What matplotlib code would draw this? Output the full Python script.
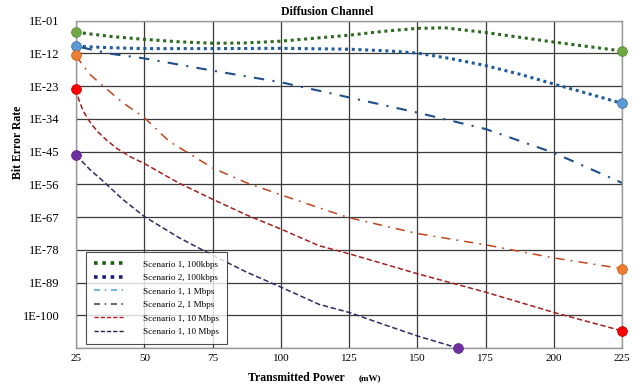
import numpy as np
import matplotlib
matplotlib.use("Agg")
import matplotlib.pyplot as plt
from matplotlib.lines import Line2D
from matplotlib.ticker import FixedLocator, NullLocator

plt.rcParams['font.family'] = ['Liberation Serif', 'DejaVu Serif']

# BER values kept as log10 exponents
x_s1_100k = [25, 37.5, 50, 62.5, 75, 87.5, 100, 112.5, 125, 137.5, 150, 160, 175, 187.5, 200, 212.5, 225]
e_s1_100k = [-4.9, -6.3, -7.3, -8.1, -8.6, -8.5, -7.9, -6.9, -5.9, -4.6, -3.6, -3.4, -5.0, -6.6, -8.2, -9.7, -11.2]

x_s2_100k = [25, 37.5, 50, 75, 100, 125, 140, 150, 162.5, 175, 187.5, 200, 212.5, 225]
e_s2_100k = [-9.6, -10.1, -10.4, -10.4, -10.3, -10.6, -11.2, -11.9, -13.8, -16.1, -19.0, -22.3, -25.5, -28.8]

x_s1_1m = [27, 37.4, 50, 75, 100, 125, 150, 175, 200, 225]
e_s1_1m = [-10.0, -12.1, -13.7, -17.8, -21.7, -26.8, -31.9, -37.4, -45.4, -55.5]

x_s2_1m = [25, 27, 30, 34, 42, 50, 59, 75, 87.5, 100, 118, 125, 150, 175, 200, 225]
e_s2_1m = [-12.7, -15.5, -19.0, -22.3, -28.5, -33.6, -41.5, -50.5, -55.5, -59.5, -65.1, -67.2, -72.5, -76.3, -80.7, -84.3]

x_s1_10m = [25, 25.5, 26, 27, 28, 29.5, 31, 33, 36, 40, 45, 50, 62.5, 75, 87.5, 100, 114, 125, 150, 175, 200, 225]
e_s1_10m = [-23.9, -26.0, -27.6, -30.0, -32.0, -34.3, -36.2, -38.4, -41.0, -44.0, -46.8, -49.0, -55.5, -61.0, -66.3, -71.0, -76.6, -79.3, -86.0, -92.2, -99.0, -105.2]

x_s1_10m_b = [25, 30, 35, 42, 50, 62.5, 75, 87.5, 100, 114, 125, 137.5, 150, 165]
e_s1_10m_b = [-46.2, -51.0, -55.0, -61.0, -66.8, -73.8, -79.8, -85.5, -90.5, -96.3, -99.0, -103.0, -106.9, -111.0]

labels = ['Scenario 1, 100kbps', 'Scenario 2, 100kbps', 'Scenario 1, 1 Mbps',
          'Scenario 2, 1 Mbps', 'Scenario 1, 10 Mbps', 'Scenario 1, 10 Mbps']

x_ticks = [25, 50, 75, 100, 125, 150, 175, 200, 225]
y_exps = [1, 12, 23, 34, 45, 56, 67, 78, 89, 100, 111]


def ber(e):
    return 10.0 ** np.array(e, dtype=float)


fig = plt.figure(figsize=(6.4, 3.89), dpi=100)
ax = fig.add_axes([0.119, 0.105, 0.853, 0.842])

dots = (0, (1, 1.2))
ax.plot(x_s1_100k, ber(e_s1_100k), color='#2d6a1f', lw=2.2, ls=dots, dash_capstyle='butt')
ax.plot(x_s2_100k, ber(e_s2_100k), color='#1f5b9c', lw=2.2, ls=dots, dash_capstyle='butt')
ax.plot(x_s1_1m, ber(e_s1_1m), color='#1d4f8c', lw=1.5, ls=(0, (5, 4, 1, 4)))
ax.plot(x_s2_1m, ber(e_s2_1m), color='#c2451b', lw=1.1, ls=(0, (6, 4, 1.2, 4)))
ax.plot(x_s1_10m, ber(e_s1_10m), color='#a3201c', lw=1.1, ls=(0, (3.5, 1.8)))
ax.plot(x_s1_10m_b, ber(e_s1_10m_b), color='#2e2a6a', lw=1.1, ls=(0, (3.5, 1.8)))

# end markers
mk = dict(marker='o', ms=7, ls='none', clip_on=False, zorder=5, mew=0.6)
ax.plot([x_s1_100k[0], x_s1_100k[-1]], ber([e_s1_100k[0], e_s1_100k[-1]]), color='#70a845', mec='#5a8c35', **mk)
ax.plot([x_s2_100k[0], x_s2_100k[-1]], ber([e_s2_100k[0], e_s2_100k[-1]]), color='#5b9bd5', mec='#41719c', **mk)
ax.plot([x_s2_1m[0], x_s2_1m[-1]], ber([e_s2_1m[0], e_s2_1m[-1]]), color='#ed7d31', mec='#c8651f', **mk)
ax.plot([x_s1_10m[0], x_s1_10m[-1]], ber([e_s1_10m[0], e_s1_10m[-1]]), color='#ff0000', mec='#c00000', **mk)
ax.plot([x_s1_10m_b[0], x_s1_10m_b[-1]], ber([e_s1_10m_b[0], e_s1_10m_b[-1]]), color='#7030a0', mec='#5a2585', **mk)

ax.set_yscale('log')
ax.set_xlim(25, 225)
ax.set_ylim(10.0 ** -111, 10.0 ** -1)
ax.xaxis.set_major_locator(FixedLocator(x_ticks))
ax.yaxis.set_major_locator(FixedLocator(10.0 ** -np.array(y_exps, dtype=float)))
ax.yaxis.set_minor_locator(NullLocator())
ax.set_yticklabels([f'1E-{k:02d}' if k != 111 else '' for k in y_exps])
ax.set_xticklabels([str(t) for t in x_ticks])
ax.tick_params(axis='y', length=0, labelsize=9, pad=12)
ax.tick_params(axis='x', length=0, labelsize=8, pad=4)
ax.grid(True, color='#3a3a3a', lw=0.9)
ax.set_axisbelow(True)
for s in ax.spines.values():
    s.set_color('#9a9a9a')
    s.set_linewidth(1.0)

fig.text(0.511, 0.969, 'Diffusion Channel', ha='center', va='center', fontsize=8.5, fontweight='bold')
fig.text(0.028, 0.634, 'Bit Error Rate', ha='center', va='center', rotation=90, fontsize=8.5, fontweight='bold')
fig.text(0.388, 0.028, 'Transmitted Power', ha='left', va='center', fontsize=8.5, fontweight='bold')
fig.text(0.561, 0.028, '(mW)', ha='left', va='center', fontsize=6.5, fontweight='bold')

handles = [
    Line2D([], [], color='#1f5c14', lw=2.6, ls=(0, (1, 1.3)), dash_capstyle='butt'),
    Line2D([], [], color='#1c1f6e', lw=2.6, ls=(0, (1, 1.3)), dash_capstyle='butt'),
    Line2D([], [], color='#4aa3d8', lw=1.1, ls=(0, (4, 3, 1, 3))),
    Line2D([], [], color='#3a3a3a', lw=1.1, ls=(0, (4, 3, 1, 3))),
    Line2D([], [], color='#c0161a', lw=1.0, ls=(0, (3, 1.5))),
    Line2D([], [], color='#1c1c50', lw=1.0, ls=(0, (3, 1.5))),
]
leg = ax.legend(handles, labels, loc='lower left', bbox_to_anchor=(0.018, 0.012),
                fontsize=6.6, frameon=True, fancybox=False, handlelength=3.4,
                labelspacing=0.55, borderpad=0.9, handletextpad=1.9, borderaxespad=0)
leg.get_frame().set_edgecolor('#222222')
leg.get_frame().set_linewidth(0.8)

fig.savefig('out.png', dpi=100)
